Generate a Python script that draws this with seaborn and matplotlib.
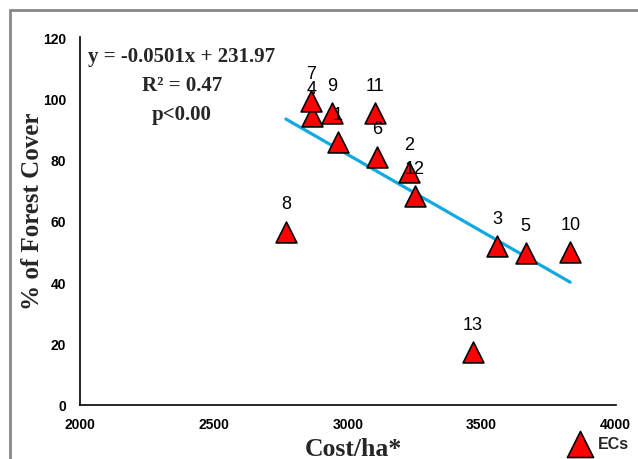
import numpy as np
import pandas as pd
import matplotlib.pyplot as plt
import seaborn as sns
from matplotlib.patches import Rectangle

# data
ec_ids = ["1", "2", "3", "4", "5", "6", "7", "8", "9", "10", "11", "12", "13"]
cost_ha = [2964, 3229, 3558, 2865, 3664, 3111, 2862, 2769, 2943, 3831, 3103, 3250, 3468]
forest_cover = [85.6, 75.9, 51.7, 94.3, 49.5, 81.0, 99.2, 56.5, 95.1, 49.8, 95.2, 68.2, 17.2]

slope = -0.0501
intercept = 231.97
r2 = 0.47

dados = pd.DataFrame({"EC": ec_ids, "Cost": cost_ha, "Cover": forest_cover})
x_fit = np.array([dados.Cost.min(), dados.Cost.max()])
linha = pd.DataFrame({"Cost": x_fit, "Cover": slope * x_fit + intercept})

sns.set_style("white")
plt.rcParams["font.family"] = ["Liberation Sans", "DejaVu Sans"]

fig = plt.figure(figsize=(6.38, 4.6), dpi=100)
ax = fig.add_axes([80 / 638, 54 / 460, 535.5 / 638, 368 / 460])

# regression line
sns.lineplot(x="Cost", y="Cover", data=linha, color="#12A8E0", linewidth=2.3, ax=ax)
# points
sns.scatterplot(x="Cost", y="Cover", data=dados, marker="^", s=225, color="red",
                edgecolor="black", linewidth=1.2, zorder=3, ax=ax, legend=False)

# EC number above each triangle
for _, r in dados.iterrows():
    ax.annotate(r.EC, (r.Cost, r.Cover), xytext=(0, 20), textcoords="offset points",
                ha="center", va="center", fontsize=13, color="black", zorder=4)

ax.set_xlim(2000, 4000)
ax.set_ylim(0, 120)
ax.set_xticks([2000, 2500, 3000, 3500, 4000])
ax.set_yticks([0, 20, 40, 60, 80, 100, 120])
ax.tick_params(direction="in", length=3, width=1, labelsize=10, colors="black")
ax.tick_params(axis="x", pad=9)
ax.tick_params(axis="y", pad=10)
for lab in ax.get_xticklabels() + ax.get_yticklabels():
    lab.set_fontweight("bold")

sns.despine(ax=ax)
for s in ["left", "bottom"]:
    ax.spines[s].set_color("black")
    ax.spines[s].set_linewidth(1.2)

ax.set_xlabel("Cost/ha*", fontsize=18.5, fontweight="bold", family="Liberation Serif")
ax.set_ylabel("% of Forest Cover", fontsize=18, fontweight="bold", family="Liberation Serif")
ax.xaxis.set_label_coords(0.511, -0.088)
ax.yaxis.set_label_coords(-0.068, 0.53)

# equation box
eq = ["y = %.4fx + %.2f" % (slope, intercept), "R² = %.2f" % r2, "p<0.00"]
for i, t in enumerate(eq):
    ax.text(0.19, 0.948 - i * 0.079, t, transform=ax.transAxes, ha="center", va="center",
            fontsize=15, fontweight="bold", family="Liberation Serif")

# legend below the plot
ax.scatter([], [], marker="^", s=225, color="red", edgecolor="black", linewidth=1.2, label="ECs")
leg = ax.legend(loc="center left", bbox_to_anchor=(550 / 638, 15 / 460),
                bbox_transform=fig.transFigure, frameon=False, markerscale=1.25,
                handletextpad=0.1, prop={"weight": "bold", "size": 11.5})

# grey chart border
fig.add_artist(Rectangle((10 / 638, -0.5), 2, 1.5 - 11 / 460, transform=fig.transFigure,
                         fill=False, edgecolor="#888888", linewidth=2))

plt.savefig("out.png", dpi=100)
